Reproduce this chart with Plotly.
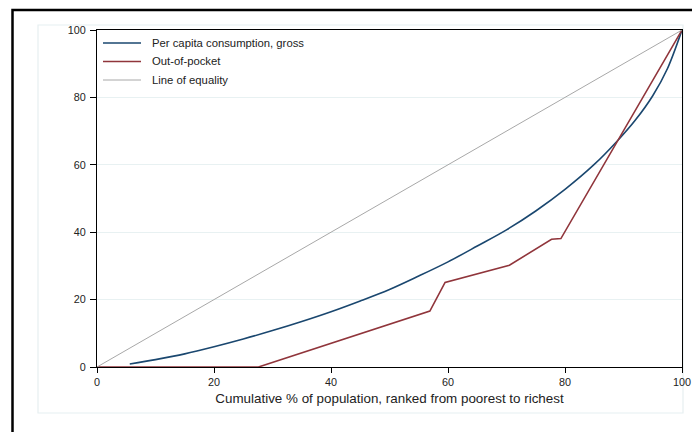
import plotly.graph_objects as go

# Lorenz / concentration curves (cumulative % of population vs cumulative % share)
cons_x = [5.6, 10, 15, 20, 25, 30, 35, 40, 45, 50, 55, 60, 65, 70, 75, 80, 85, 88.9, 92, 95, 97.5, 100]
cons_y = [0.9, 2.2, 3.9, 6.0, 8.3, 10.8, 13.5, 16.4, 19.6, 23.0, 27.0, 31.2, 35.9, 40.7, 46.3, 52.7, 60.1, 67.0, 73.2, 80.5, 88.5, 100]

oop_x = [0, 27.6, 56.9, 59.5, 70.5, 77.7, 79.3, 100]
oop_y = [0, 0, 16.6, 25.1, 30.2, 37.9, 38.1, 100]

eq_x = [0, 100]
eq_y = [0, 100]

series_names = ["Per capita consumption, gross", "Out-of-pocket", "Line of equality"]
series_colors = ["#1a476f", "#90353b", "#a8a8a8"]
series_widths = [1.6, 1.6, 1.0]
x_ticks = [0, 20, 40, 60, 80, 100]
y_ticks = [0, 20, 40, 60, 80, 100]
x_title = "Cumulative % of population, ranked from poorest to richest"

FONT = "Arial, Liberation Sans, sans-serif"

fig = go.Figure()
fig.add_trace(go.Scatter(x=cons_x, y=cons_y, mode="lines", name=series_names[0],
                         line=dict(color=series_colors[0], width=series_widths[0],
                                   shape="spline", smoothing=0.9)))
fig.add_trace(go.Scatter(x=oop_x, y=oop_y, mode="lines", name=series_names[1],
                         line=dict(color=series_colors[1], width=series_widths[1])))
fig.add_trace(go.Scatter(x=eq_x, y=eq_y, mode="lines", name=series_names[2],
                         line=dict(color=series_colors[2], width=series_widths[2])))

L, R, T, B = 97, 10, 30, 65
W, H = 692, 432
pw, ph = W - L - R, H - T - B

def px_x(p):
    return (p - L) / pw

def px_y(p):
    return (H - B - p) / ph

shapes = [
    # light inner panel
    dict(type="rect", xref="paper", yref="paper", layer="below",
         x0=px_x(38), x1=px_x(683), y0=px_y(413), y1=px_y(25),
         line=dict(color="#e6eff1", width=1.2), fillcolor="white"),
    # outer black frame (cut off by window on right/bottom)
    dict(type="rect", xref="paper", yref="paper", layer="below",
         x0=px_x(12.5), x1=px_x(720), y0=px_y(460), y1=px_y(10),
         line=dict(color="black", width=2.5), fillcolor="rgba(0,0,0,0)"),
]

annotations = []
legend_rows = [43, 61.5, 80]
for name, color, width, row in zip(series_names, series_colors, series_widths, legend_rows):
    shapes.append(dict(type="line", xref="paper", yref="paper",
                       x0=px_x(103), x1=px_x(141), y0=px_y(row), y1=px_y(row),
                       line=dict(color=color, width=width)))
    annotations.append(dict(xref="paper", yref="paper", x=px_x(150), y=px_y(row),
                            xanchor="left", yanchor="middle", showarrow=False,
                            text=name, font=dict(family=FONT, size=11.3, color="#222222")))

fig.update_layout(
    width=W, height=H,
    template="none",
    paper_bgcolor="white", plot_bgcolor="white",
    margin=dict(l=L, r=R, t=T, b=B, pad=0),
    font=dict(family=FONT, size=10.5, color="#222222"),
    shapes=shapes,
    annotations=annotations,
    showlegend=False,
    xaxis=dict(range=[0, 100], tickvals=x_ticks, ticks="outside", ticklen=5,
               tickwidth=1, tickcolor="black", showline=True, linecolor="black",
               linewidth=1.2, mirror=True, showgrid=False, zeroline=False,
               automargin=False, tickfont=dict(size=10.8),
               title=dict(text=x_title, font=dict(size=13.4), standoff=6)),
    yaxis=dict(range=[0, 100], tickvals=y_ticks, ticks="outside", ticklen=6,
               tickwidth=1, tickcolor="black", showline=True, linecolor="black",
               linewidth=1.2, mirror=True, showgrid=True, gridcolor="#e8f1f2",
               gridwidth=1, zeroline=False, automargin=False,
               tickfont=dict(size=10.8), ticklabelstandoff=2),
)

fig.write_html("out.html", config={"displayModeBar": False},
               post_script="document.body.style.margin='0';document.body.style.overflow='hidden';")
